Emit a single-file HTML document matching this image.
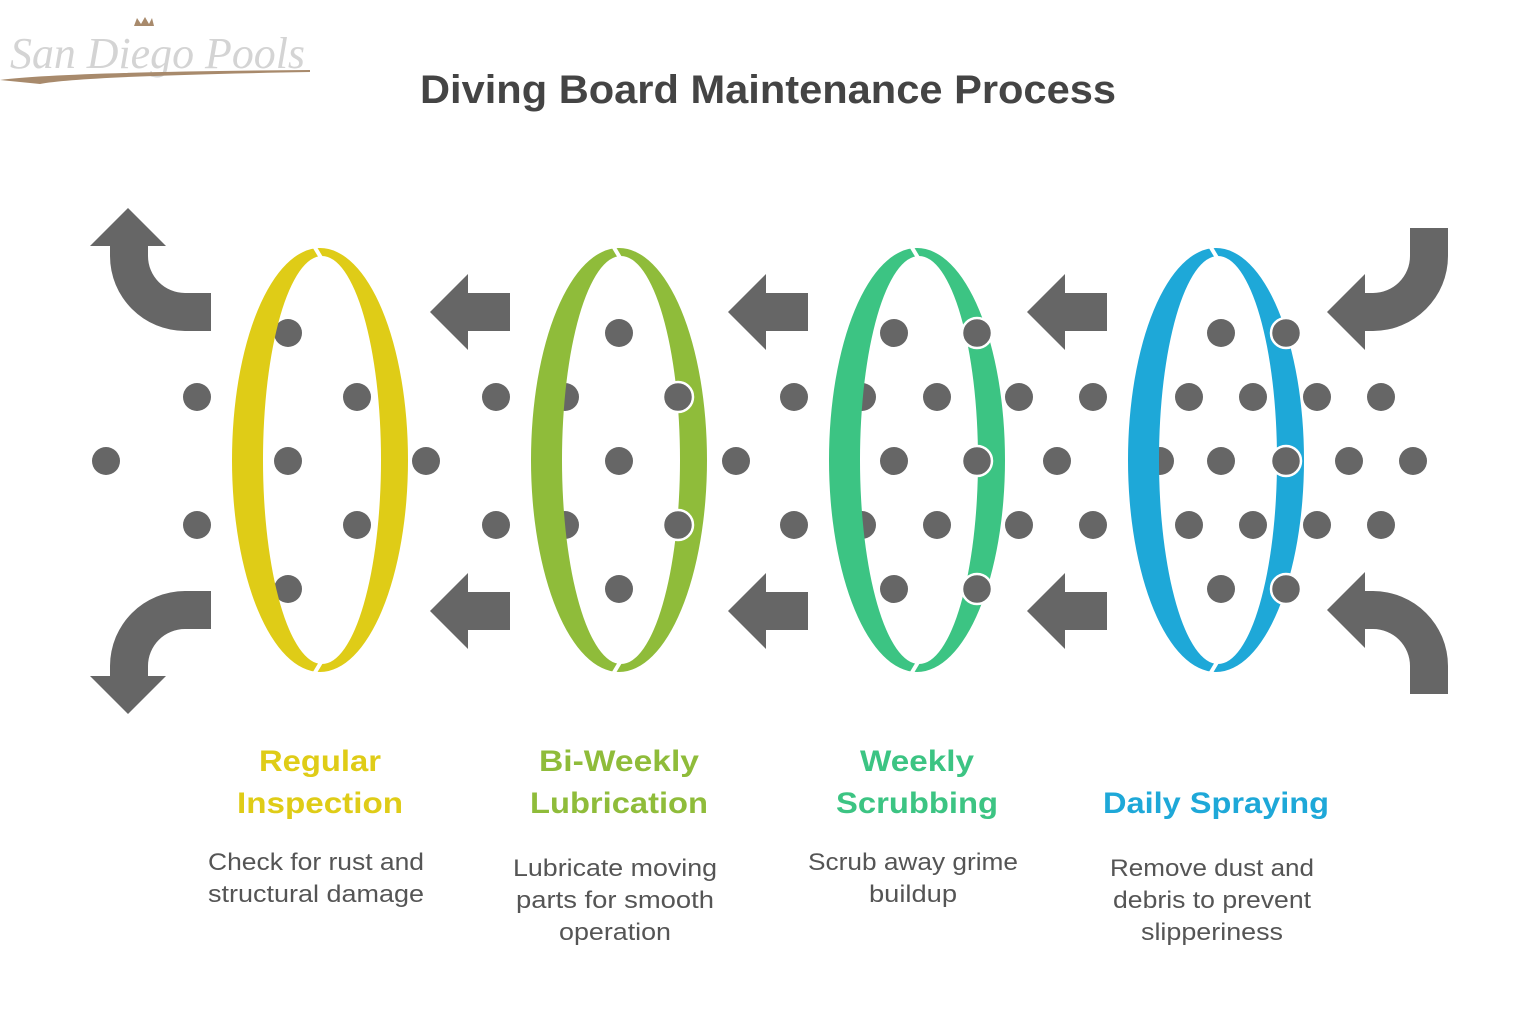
<!DOCTYPE html>
<html><head><meta charset="utf-8"><style>
html,body{margin:0;padding:0;background:#fff;}
svg{display:block;}
</style></head><body>
<svg width="1536" height="1024" viewBox="0 0 1536 1024" xmlns="http://www.w3.org/2000/svg" font-family="Liberation Sans, sans-serif">
<!-- logo -->
<text x="10" y="68" font-family="Liberation Serif, serif" font-style="italic" font-size="44" fill="#d4d4d4" textLength="295" lengthAdjust="spacingAndGlyphs">San Diego Pools</text>
<path d="M0,80 Q60,72 310,70 L310,72 Q80,76 40,84 Z" fill="#a88a6c"/>
<path d="M134,26 L137,18 L141,24 L145,17 L149,24 L152,18 L154,26 Z" fill="#a88a6c"/>
<text x="768" y="103" text-anchor="middle" font-size="40" font-weight="bold" fill="#444" textLength="696" lengthAdjust="spacingAndGlyphs">Diving Board Maintenance Process</text>

<g fill="#666">
<!-- curved arrows -->
<path id="tl" d="M211,293 L185,293 A37,37 0 0 1 148,256 L148,246 L166,246 L128,208 L90,246 L110,246 L110,256 A75,75 0 0 0 185,331 L211,331 Z"/>
<path d="M211,293 L185,293 A37,37 0 0 1 148,256 L148,246 L166,246 L128,208 L90,246 L110,246 L110,256 A75,75 0 0 0 185,331 L211,331 Z" transform="translate(0,922) scale(1,-1)"/>
<path d="M1410,228 L1448,228 L1448,256 A75,75 0 0 1 1373,331 L1365,331 L1365,350 L1327,312 L1365,274 L1365,293 L1373,293 A37,37 0 0 0 1410,256 Z"/>
<path d="M1410,228 L1448,228 L1448,256 A75,75 0 0 1 1373,331 L1365,331 L1365,350 L1327,312 L1365,274 L1365,293 L1373,293 A37,37 0 0 0 1410,256 Z" transform="translate(0,922) scale(1,-1)"/>
<!-- straight arrows -->
<path d="M430,312 L468,274 L468,293 L510,293 L510,331 L468,331 L468,350 Z"/>
<path d="M430,611 L468,573 L468,592 L510,592 L510,630 L468,630 L468,649 Z"/>
<path d="M728,312 L766,274 L766,293 L808,293 L808,331 L766,331 L766,350 Z"/>
<path d="M728,611 L766,573 L766,592 L808,592 L808,630 L766,630 L766,649 Z"/>
<path d="M1027,312 L1065,274 L1065,293 L1107,293 L1107,331 L1065,331 L1065,350 Z"/>
<path d="M1027,611 L1065,573 L1065,592 L1107,592 L1107,630 L1065,630 L1065,649 Z"/>
<!-- dots behind -->
<g>
<circle cx="106" cy="461" r="14"/><circle cx="288" cy="461" r="14"/><circle cx="426" cy="461" r="14"/><circle cx="619" cy="461" r="14"/><circle cx="736" cy="461" r="14"/><circle cx="894" cy="461" r="14"/><circle cx="1057" cy="461" r="14"/><circle cx="1221" cy="461" r="14"/><circle cx="1160" cy="461" r="14"/><circle cx="1349" cy="461" r="14"/><circle cx="1413" cy="461" r="14"/>
<circle cx="288" cy="333" r="14"/><circle cx="619" cy="333" r="14"/><circle cx="894" cy="333" r="14"/><circle cx="1221" cy="333" r="14"/>
<circle cx="288" cy="589" r="14"/><circle cx="619" cy="589" r="14"/><circle cx="894" cy="589" r="14"/><circle cx="1221" cy="589" r="14"/>
</g>
<g id="row">
<circle cx="197" cy="397" r="14"/><circle cx="357" cy="397" r="14"/><circle cx="496" cy="397" r="14"/><circle cx="565" cy="397" r="14"/><circle cx="794" cy="397" r="14"/><circle cx="862" cy="397" r="14"/><circle cx="937" cy="397" r="14"/><circle cx="1019" cy="397" r="14"/><circle cx="1093" cy="397" r="14"/><circle cx="1189" cy="397" r="14"/><circle cx="1253" cy="397" r="14"/><circle cx="1317" cy="397" r="14"/><circle cx="1381" cy="397" r="14"/>
</g>
<use href="#row" transform="translate(0,128)"/>
</g>

<!-- rings -->
<g fill-rule="evenodd">
<path fill="#dfcc17" d="M232,460 a88,212 0 1 0 176,0 a88,212 0 1 0 -176,0 Z M263,460 a59,204 0 1 0 118,0 a59,204 0 1 0 -118,0 Z"/>
<path fill="#8fbc3a" d="M531,460 a88,212 0 1 0 176,0 a88,212 0 1 0 -176,0 Z M562,460 a59,204 0 1 0 118,0 a59,204 0 1 0 -118,0 Z"/>
<path fill="#3cc483" d="M829,460 a88,212 0 1 0 176,0 a88,212 0 1 0 -176,0 Z M860,460 a59,204 0 1 0 118,0 a59,204 0 1 0 -118,0 Z"/>
<path fill="#1ea8d8" d="M1128,460 a88,212 0 1 0 176,0 a88,212 0 1 0 -176,0 Z M1159,460 a59,204 0 1 0 118,0 a59,204 0 1 0 -118,0 Z"/>
</g>
<g stroke="#fff" stroke-width="4">
<line x1="314" y1="246" x2="326" y2="266"/><line x1="314" y1="674" x2="326" y2="654"/>
<line x1="613" y1="246" x2="625" y2="266"/><line x1="613" y1="674" x2="625" y2="654"/>
<line x1="911" y1="246" x2="923" y2="266"/><line x1="911" y1="674" x2="923" y2="654"/>
<line x1="1210" y1="246" x2="1222" y2="266"/><line x1="1210" y1="674" x2="1222" y2="654"/>
</g>
<!-- front dots -->
<g fill="#666" stroke="#fff" stroke-width="2.5">
<circle cx="678" cy="397" r="15"/><circle cx="678" cy="525" r="15"/>
<circle cx="977" cy="333" r="15"/><circle cx="977" cy="461" r="15"/><circle cx="977" cy="589" r="15"/>
<circle cx="1286" cy="333" r="15"/><circle cx="1286" cy="461" r="15"/><circle cx="1286" cy="589" r="15"/>
</g>

<!-- labels -->
<g font-size="30" font-weight="bold" text-anchor="middle">
<text x="320" y="771" fill="#dfcc17" textLength="122" lengthAdjust="spacingAndGlyphs">Regular</text>
<text x="320" y="813" fill="#dfcc17" textLength="166" lengthAdjust="spacingAndGlyphs">Inspection</text>
<text x="619" y="771" fill="#8fbc3a" textLength="160" lengthAdjust="spacingAndGlyphs">Bi-Weekly</text>
<text x="619" y="813" fill="#8fbc3a" textLength="178" lengthAdjust="spacingAndGlyphs">Lubrication</text>
<text x="917" y="771" fill="#3cc483" textLength="114" lengthAdjust="spacingAndGlyphs">Weekly</text>
<text x="917" y="813" fill="#3cc483" textLength="162" lengthAdjust="spacingAndGlyphs">Scrubbing</text>
<text x="1216" y="813" fill="#1ea8d8" textLength="226" lengthAdjust="spacingAndGlyphs">Daily Spraying</text>
</g>
<g font-size="24" fill="#555" text-anchor="middle">
<text x="316" y="870" textLength="216" lengthAdjust="spacingAndGlyphs">Check for rust and</text>
<text x="316" y="902" textLength="216" lengthAdjust="spacingAndGlyphs">structural damage</text>
<text x="615" y="876" textLength="204" lengthAdjust="spacingAndGlyphs">Lubricate moving</text>
<text x="615" y="908" textLength="198" lengthAdjust="spacingAndGlyphs">parts for smooth</text>
<text x="615" y="940" textLength="112" lengthAdjust="spacingAndGlyphs">operation</text>
<text x="913" y="870" textLength="210" lengthAdjust="spacingAndGlyphs">Scrub away grime</text>
<text x="913" y="902" textLength="88" lengthAdjust="spacingAndGlyphs">buildup</text>
<text x="1212" y="876" textLength="204" lengthAdjust="spacingAndGlyphs">Remove dust and</text>
<text x="1212" y="908" textLength="198" lengthAdjust="spacingAndGlyphs">debris to prevent</text>
<text x="1212" y="940" textLength="142" lengthAdjust="spacingAndGlyphs">slipperiness</text>
</g>
</svg>
</body></html>
